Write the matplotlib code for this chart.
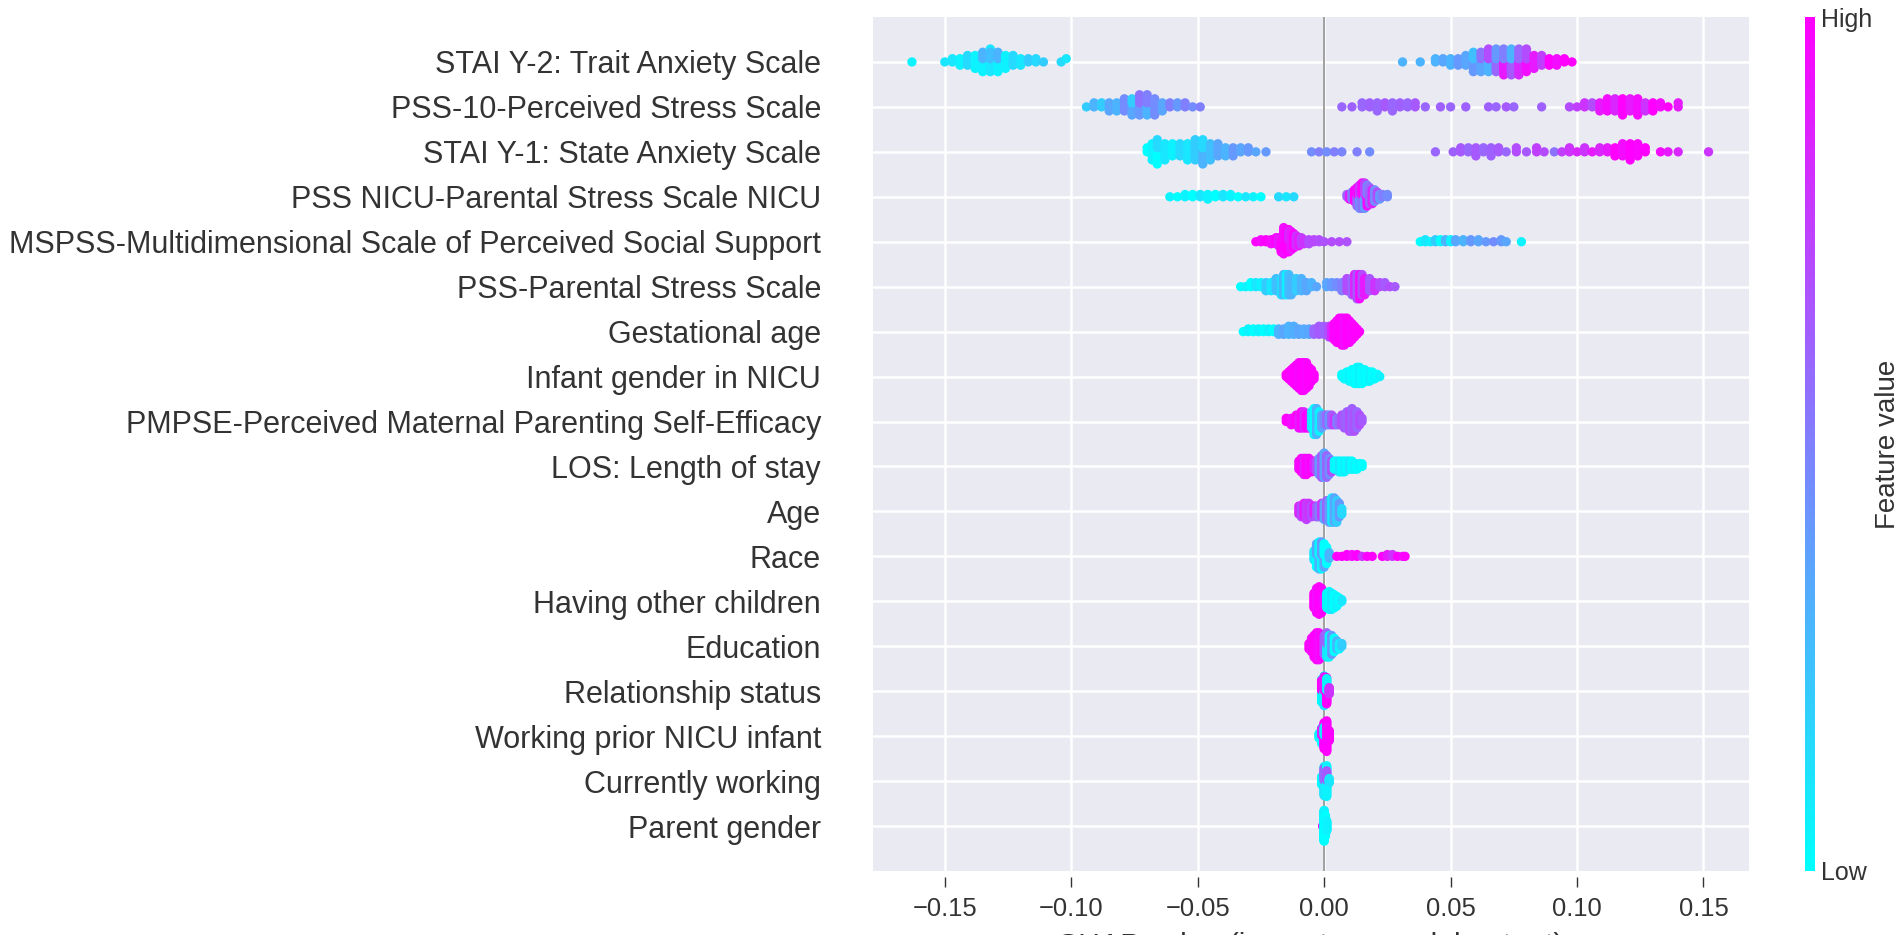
import numpy as np
import matplotlib
matplotlib.use("Agg")
import matplotlib.pyplot as plt
from matplotlib.cm import ScalarMappable
from matplotlib.colors import Normalize

plt.rcParams['font.family'] = ['Liberation Sans', 'DejaVu Sans']

# --- data: SHAP value, how many points sit there, feature level (0=low, 1=high) ---
features = [
    'STAI Y-2: Trait Anxiety Scale',
    'PSS-10-Perceived Stress Scale',
    'STAI Y-1: State Anxiety Scale',
    'PSS NICU-Parental Stress Scale NICU',
    'MSPSS-Multidimensional Scale of Perceived Social Support',
    'PSS-Parental Stress Scale',
    'Gestational age',
    'Infant gender in NICU',
    'PMPSE-Perceived Maternal Parenting Self-Efficacy',
    'LOS: Length of stay',
    'Age',
    'Race',
    'Having other children',
    'Education',
    'Relationship status',
    'Working prior NICU infant',
    'Currently working',
    'Parent gender',
]

stai2_x = [-0.163, -0.150, -0.147, -0.144, -0.141, -0.138, -0.135, -0.135, -0.132, -0.132, -0.129, -0.129, -0.126, -0.123, -0.120, -0.117, -0.114, -0.111, -0.104, -0.102,
           0.031, 0.038, 0.044, 0.047, 0.050, 0.053, 0.056, 0.059, 0.059, 0.062, 0.062, 0.065, 0.065, 0.068, 0.068, 0.071, 0.071, 0.074, 0.074, 0.077, 0.077, 0.080, 0.080, 0.083, 0.086, 0.089, 0.092, 0.095, 0.098]
stai2_n = [1, 1, 2, 3, 4, 5, 4, 3, 5, 3, 4, 3, 5, 4, 3, 2, 2, 1, 1, 1,
           1, 1, 2, 2, 3, 3, 4, 4, 3, 4, 3, 4, 4, 4, 4, 5, 4, 5, 4, 5, 4, 4, 4, 5, 4, 3, 3, 2, 1]
stai2_c = [0.05, 0.1, 0.1, 0.05, 0.15, 0.05, 0.05, 0.3, 0.1, 0.25, 0.05, 0.3, 0.05, 0.15, 0.1, 0.2, 0.15, 0.2, 0.15, 0.1,
           0.3, 0.3, 0.3, 0.35, 0.3, 0.4, 0.35, 0.4, 0.25, 0.35, 0.55, 0.3, 0.7, 0.6, 0.4, 0.9, 0.5, 0.65, 0.3, 0.85, 0.6, 0.95, 0.7, 0.9, 0.75, 1.0, 0.95, 1.0, 1.0]

pss10_x = [-0.094, -0.091, -0.088, -0.085, -0.082, -0.079, -0.076, -0.076, -0.073, -0.073, -0.070, -0.070, -0.067, -0.064, -0.061, -0.058, -0.055, -0.052, -0.049,
           0.007, 0.011, 0.015, 0.018, 0.021, 0.024, 0.027, 0.030, 0.033, 0.036, 0.040, 0.046, 0.050, 0.056, 0.065, 0.068, 0.072, 0.075, 0.086, 0.097,
           0.100, 0.103, 0.106, 0.109, 0.112, 0.115, 0.118, 0.121, 0.124, 0.127, 0.130, 0.133, 0.136, 0.140]
pss10_n = [1, 2, 2, 3, 3, 4, 3, 2, 3, 3, 3, 3, 5, 3, 2, 2, 2, 1, 1,
           1, 1, 2, 2, 3, 2, 3, 2, 2, 2, 1, 1, 1, 1, 1, 1, 1, 1, 1, 1,
           1, 2, 2, 3, 4, 4, 5, 4, 5, 3, 3, 2, 1, 2]
pss10_c = [0.2, 0.3, 0.2, 0.35, 0.3, 0.45, 0.35, 0.2, 0.4, 0.55, 0.3, 0.5, 0.45, 0.35, 0.5, 0.4, 0.5, 0.45, 0.5,
           0.6, 0.62, 0.6, 0.62, 0.6, 0.65, 0.6, 0.62, 0.6, 0.65, 0.6, 0.62, 0.6, 0.62, 0.62, 0.6, 0.65, 0.6, 0.62, 0.7,
           0.75, 0.8, 0.7, 0.9, 0.95, 0.85, 1.0, 0.9, 0.95, 0.8, 1.0, 0.95, 1.0, 0.9]

stai1_x = [-0.070, -0.068, -0.066, -0.066, -0.063, -0.060, -0.057, -0.054, -0.051, -0.048, -0.048, -0.045, -0.042, -0.039, -0.036, -0.033, -0.030, -0.027, -0.023,
           -0.005, -0.002, 0.001, 0.004, 0.007, 0.013, 0.018,
           0.044, 0.051, 0.054, 0.057, 0.060, 0.063, 0.066, 0.069, 0.072, 0.076, 0.080, 0.084, 0.087, 0.091, 0.094, 0.097, 0.100, 0.103, 0.106, 0.109,
           0.112, 0.115, 0.118, 0.121, 0.124, 0.127, 0.133, 0.136, 0.140, 0.152]
stai1_n = [2, 5, 4, 3, 5, 4, 4, 5, 6, 4, 3, 5, 4, 3, 3, 2, 2, 1, 1,
           1, 1, 1, 1, 1, 1, 1,
           1, 1, 2, 2, 3, 2, 3, 2, 1, 2, 1, 2, 1, 1, 1, 2, 1, 2, 1, 2,
           2, 3, 4, 5, 4, 2, 1, 1, 1, 1]
stai1_c = [0.0, 0.05, 0.0, 0.15, 0.1, 0.05, 0.15, 0.1, 0.2, 0.3, 0.15, 0.25, 0.35, 0.3, 0.4, 0.35, 0.4, 0.35, 0.4,
           0.45, 0.5, 0.45, 0.5, 0.48, 0.5, 0.45,
           0.6, 0.62, 0.65, 0.6, 0.65, 0.6, 0.62, 0.65, 0.6, 0.7, 0.65, 0.75, 0.7, 0.55, 0.75, 0.8, 0.85, 0.8, 0.9, 0.85,
           0.9, 1.0, 0.95, 1.0, 0.98, 1.0, 0.95, 0.9, 0.85, 0.8]

pssnicu_x = [-0.061, -0.058, -0.055, -0.052, -0.049, -0.046, -0.043, -0.040, -0.037, -0.034, -0.031, -0.028, -0.025, -0.018, -0.015, -0.012,
             0.009, 0.010, 0.011, 0.012, 0.013, 0.013, 0.014, 0.014, 0.015, 0.015, 0.016, 0.016, 0.017, 0.017, 0.018, 0.019, 0.020, 0.021, 0.022, 0.023, 0.025]
pssnicu_n = [1, 1, 2, 2, 2, 3, 2, 2, 2, 1, 1, 1, 1, 1, 1, 1,
             2, 3, 4, 6, 5, 4, 6, 5, 6, 6, 6, 6, 5, 5, 8, 7, 6, 4, 3, 2, 2]
pssnicu_c = [0.05, 0.0, 0.05, 0.0, 0.1, 0.05, 0.0, 0.1, 0.05, 0.0, 0.1, 0.05, 0.0, 0.15, 0.1, 0.15,
             0.6, 0.9, 0.5, 1.0, 0.6, 0.95, 0.45, 0.8, 0.55, 1.0, 0.4, 0.75, 0.95, 0.5, 0.6, 0.85, 0.45, 0.7, 0.4, 0.5, 0.45]

mspss_x = [-0.027, -0.025, -0.023, -0.021, -0.019, -0.018, -0.017, -0.016, -0.015, -0.014, -0.014, -0.013, -0.012, -0.011, -0.010, -0.009, -0.008, -0.006, -0.004, -0.002, 0.000, 0.003, 0.006, 0.009,
           0.038, 0.040, 0.042, 0.044, 0.046, 0.048, 0.050, 0.052, 0.055, 0.058, 0.061, 0.064, 0.067, 0.070, 0.072, 0.078]
mspss_n = [1, 2, 2, 3, 4, 5, 6, 8, 10, 7, 5, 10, 8, 6, 5, 4, 3, 3, 2, 2, 1, 1, 1, 1,
           1, 2, 1, 2, 2, 2, 2, 2, 2, 2, 2, 1, 1, 2, 1, 1]
mspss_c = [1.0, 0.95, 1.0, 0.95, 1.0, 0.9, 1.0, 0.95, 1.0, 1.0, 0.85, 0.9, 1.0, 0.8, 0.9, 0.75, 0.8, 0.7, 0.72, 0.7, 0.68, 0.7, 0.7, 0.68,
           0.0, 0.1, 0.05, 0.2, 0.0, 0.3, 0.05, 0.35, 0.3, 0.4, 0.35, 0.4, 0.45, 0.4, 0.35, 0.05]

pss_x = [-0.033, -0.031, -0.029, -0.027, -0.025, -0.023, -0.021, -0.019, -0.017, -0.016, -0.015, -0.014, -0.013, -0.011, -0.009, -0.007, -0.005, -0.003,
         0.001, 0.003, 0.005, 0.007, 0.009, 0.011, 0.012, 0.013, 0.014, 0.015, 0.016, 0.018, 0.020, 0.022, 0.024, 0.026, 0.028]
pss_n = [1, 1, 2, 2, 2, 3, 3, 4, 5, 6, 6, 6, 5, 4, 4, 3, 2, 1,
         2, 2, 2, 3, 4, 5, 6, 7, 7, 6, 5, 4, 3, 2, 2, 1, 1]
pss_c = [0.0, 0.05, 0.0, 0.1, 0.05, 0.2, 0.1, 0.25, 0.15, 0.3, 0.05, 0.25, 0.3, 0.2, 0.3, 0.35, 0.3, 0.35,
         0.35, 0.4, 0.45, 0.5, 0.7, 0.6, 0.85, 0.65, 0.95, 0.7, 0.9, 0.65, 0.8, 0.7, 0.65, 0.7, 0.65]

gest_x = [-0.032, -0.030, -0.028, -0.026, -0.024, -0.022, -0.020, -0.018, -0.016, -0.014, -0.012, -0.010, -0.008, -0.006, -0.004,
          -0.002, 0.000, 0.002, 0.003, 0.004, 0.005, 0.006, 0.007, 0.008, 0.009, 0.010, 0.011, 0.012, 0.013, 0.014]
gest_n = [1, 2, 2, 2, 2, 2, 2, 3, 3, 4, 4, 3, 3, 3, 3,
          4, 4, 5, 5, 7, 9, 10, 11, 11, 10, 9, 7, 5, 3, 1]
gest_c = [0.0, 0.05, 0.0, 0.05, 0.0, 0.05, 0.0, 0.3, 0.35, 0.3, 0.32, 0.35, 0.33, 0.35, 0.6,
          0.65, 0.62, 0.7, 0.85, 1.0, 0.98, 1.0, 1.0, 0.95, 1.0, 1.0, 0.98, 1.0, 1.0, 1.0]

infant_x = [-0.015, -0.014, -0.013, -0.012, -0.011, -0.010, -0.009, -0.008, -0.007, -0.006, -0.005, -0.004,
            0.007, 0.008, 0.009, 0.010, 0.011, 0.012, 0.013, 0.014, 0.015, 0.016, 0.017, 0.018, 0.019, 0.020, 0.021, 0.022]
infant_n = [2, 4, 6, 8, 10, 12, 13, 13, 12, 9, 6, 3,
            2, 3, 4, 5, 6, 7, 8, 8, 7, 6, 5, 5, 4, 3, 2, 1]
infant_c = [1.0, 1.0, 0.98, 1.0, 1.0, 0.97, 1.0, 1.0, 0.98, 1.0, 1.0, 1.0,
            0.0, 0.02, 0.0, 0.05, 0.0, 0.02, 0.0, 0.05, 0.0, 0.02, 0.0, 0.05, 0.0, 0.02, 0.0, 0.05]

pmpse_x = [-0.015, -0.013, -0.011, -0.010, -0.009, -0.008, -0.007, -0.006, -0.005, -0.004, -0.003, -0.002, -0.001, 0.000, 0.001,
           0.002, 0.003, 0.004, 0.005, 0.006, 0.007, 0.008, 0.009, 0.010, 0.011, 0.012, 0.013, 0.014, 0.015]
pmpse_n = [2, 3, 4, 5, 6, 6, 5, 5, 6, 9, 9, 7, 5, 4, 4,
           4, 4, 3, 3, 3, 4, 5, 6, 7, 8, 7, 6, 4, 2]
pmpse_c = [1.0, 0.95, 1.0, 0.9, 1.0, 0.85, 1.0, 0.95, 0.1, 0.0, 0.3, 0.05, 0.35, 0.45, 0.6,
           0.4, 0.65, 0.8, 0.5, 0.6, 0.7, 0.65, 0.6, 0.7, 0.62, 0.68, 0.6, 0.7, 0.65]

los_x = [-0.010, -0.009, -0.008, -0.007, -0.006, -0.005, -0.004, -0.003, -0.002, -0.001, 0.000, 0.001, 0.002,
         0.003, 0.004, 0.005, 0.006, 0.007, 0.008, 0.009, 0.010, 0.011, 0.012, 0.013, 0.014, 0.015]
los_n = [4, 6, 7, 7, 6, 5, 4, 5, 7, 9, 10, 9, 7,
         5, 4, 4, 5, 5, 5, 4, 4, 4, 3, 3, 2, 2]
los_c = [0.95, 1.0, 0.9, 1.0, 0.95, 1.0, 0.85, 0.7, 0.4, 0.65, 0.35, 0.6, 0.45,
         0.7, 0.05, 0.0, 0.1, 0.0, 0.05, 0.0, 0.1, 0.0, 0.05, 0.0, 0.05, 0.0]

age_x = [-0.010, -0.009, -0.008, -0.007, -0.006, -0.005, -0.004, -0.003, -0.002, -0.001, 0.000, 0.001, 0.002, 0.003, 0.004, 0.005, 0.006, 0.007]
age_n = [4, 5, 6, 7, 6, 5, 4, 5, 5, 6, 7, 8, 9, 10, 10, 9, 6, 3]
age_c = [0.85, 0.7, 0.9, 0.75, 0.8, 0.7, 0.9, 0.65, 0.5, 0.8, 0.35, 0.6, 0.4, 0.1, 0.35, 0.2, 0.4, 0.15]

race_x = [-0.004, -0.003, -0.003, -0.002, -0.002, -0.001, -0.001, 0.000, 0.000, 0.001, 0.002,
          0.005, 0.007, 0.009, 0.011, 0.013, 0.015, 0.017, 0.019, 0.023, 0.025, 0.027, 0.029, 0.031, 0.032]
race_n = [6, 7, 7, 8, 8, 8, 8, 7, 7, 10, 4,
          1, 1, 2, 2, 2, 1, 1, 1, 1, 2, 2, 1, 1, 1]
race_c = [0.1, 0.0, 0.35, 0.3, 0.05, 0.05, 0.4, 0.35, 0.0, 0.0, 0.3,
          1.0, 1.0, 1.0, 0.95, 1.0, 0.8, 1.0, 1.0, 1.0, 0.9, 0.8, 1.0, 0.95, 1.0]

children_x = [-0.004, -0.003, -0.002, -0.001, 0.000, 0.001, 0.002, 0.003, 0.004, 0.005, 0.006, 0.007]
children_n = [10, 16, 18, 16, 6, 10, 12, 11, 9, 7, 4, 2]
children_c = [1.0, 0.95, 1.0, 1.0, 0.9, 0.05, 0.0, 0.1, 0.0, 0.05, 0.0, 0.1]

edu_x = [-0.006, -0.005, -0.004, -0.003, -0.002, -0.001, 0.000, 0.001, 0.001, 0.002, 0.003, 0.004, 0.005, 0.006, 0.007]
edu_n = [3, 6, 9, 11, 11, 9, 8, 5, 5, 9, 8, 6, 4, 3, 2]
edu_c = [1.0, 0.95, 1.0, 1.0, 0.95, 1.0, 0.65, 0.1, 0.6, 0.05, 0.4, 0.0, 0.3, 0.05, 0.2]

relation_x = [-0.001, -0.001, 0.000, 0.000, 0.001, 0.001, 0.002]
relation_n = [14, 12, 18, 16, 16, 14, 8]
relation_c = [0.0, 1.0, 0.1, 0.9, 1.0, 0.05, 0.8]

prior_x = [-0.002, -0.001, -0.001, 0.000, 0.000, 0.001, 0.001, 0.002]
prior_n = [6, 10, 8, 20, 10, 25, 10, 12]
prior_c = [0.05, 0.0, 0.9, 1.0, 0.1, 1.0, 0.95, 1.0]

working_x = [-0.001, 0.000, 0.000, 0.001, 0.001, 0.002]
working_n = [10, 20, 15, 25, 12, 6]
working_c = [0.0, 0.1, 0.6, 0.05, 0.65, 0.1]

pgender_x = [-0.0005, 0.0, 0.0, 0.0005, 0.001]
pgender_n = [3, 30, 30, 40, 20]
pgender_c = [1.0, 0.0, 0.05, 0.0, 0.05]

rows = [
    (stai2_x, stai2_n, stai2_c), (pss10_x, pss10_n, pss10_c), (stai1_x, stai1_n, stai1_c),
    (pssnicu_x, pssnicu_n, pssnicu_c), (mspss_x, mspss_n, mspss_c), (pss_x, pss_n, pss_c),
    (gest_x, gest_n, gest_c), (infant_x, infant_n, infant_c), (pmpse_x, pmpse_n, pmpse_c),
    (los_x, los_n, los_c), (age_x, age_n, age_c), (race_x, race_n, race_c),
    (children_x, children_n, children_c), (edu_x, edu_n, edu_c), (relation_x, relation_n, relation_c),
    (prior_x, prior_n, prior_c), (working_x, working_n, working_c), (pgender_x, pgender_n, pgender_c),
]

xticks = [-0.15, -0.10, -0.05, 0.00, 0.05, 0.10, 0.15]


def swarm_offsets(xs, rank, row_height=0.4, nbins=100):
    # same stacking rule as the shap beeswarm: points in one x-bin pile up and down
    span = xs.max() - xs.min()
    quant = np.round(nbins * (xs - xs.min()) / (span + 1e-8))
    order = np.lexsort((rank, quant))
    ys = np.zeros(len(xs))
    layer, last_bin = 0, None
    for i in order:
        if quant[i] != last_bin:
            layer = 0
        ys[i] = np.ceil(layer / 2) * ((layer % 2) * 2 - 1)
        layer += 1
        last_bin = quant[i]
    ys *= 0.9 * (row_height / np.max(ys + 1))
    return ys


fig = plt.figure(figsize=(19.02, 9.35), dpi=100)
ax = fig.add_axes([873 / 1902, 64 / 935, 876 / 1902, 854 / 935])
ax.set_facecolor('#EAEAF2')
for sp in ax.spines.values():
    sp.set_visible(False)
ax.spines['bottom'].set_position(('outward', 4))
ax.grid(True, color='white', lw=1.8)
ax.set_axisbelow(True)
ax.axvline(0, color='#999999', lw=1.3, zorder=1)

cmap = plt.get_cmap('cool')
n_feat = len(features)
for i, (xv, nv, cv) in enumerate(rows):
    pos = n_feat - 1 - i
    xs = np.repeat(np.array(xv, dtype=float), nv)
    cs = np.repeat(np.array(cv, dtype=float), nv)
    rank = np.concatenate([np.arange(k) for k in nv])
    ys = swarm_offsets(xs, rank)
    ax.scatter(xs, pos + ys, c=cs, cmap=cmap, vmin=0, vmax=1, s=45,
               linewidths=0, zorder=3)

ax.set_ylim(-1, n_feat)
ax.set_yticks(range(n_feat))
ax.set_yticklabels(features[::-1])
ax.set_xlim(-0.1784, 0.168)
ax.set_xticks(xticks)
ax.set_xticklabels(['\u2212%.2f' % abs(t) if t < 0 else '%.2f' % t for t in xticks])
ax.tick_params(axis='y', length=0, pad=37.5, labelsize=22, labelcolor='#333333')
ax.tick_params(axis='x', length=7, width=1.0, color='#333333', direction='out',
               pad=8, labelsize=18.4, labelcolor='#333333')

# axis title sits mostly below the picture edge, as in the source image
fig.text((873 + 1749) / 2 / 1902, 3 / 935, 'SHAP value (impact on model output)',
         ha='center', va='top', fontsize=21.8, color='#333333')

# colour bar
cax = fig.add_axes([1805 / 1902, 64 / 935, 10 / 1902, 854 / 935])
cb = fig.colorbar(ScalarMappable(norm=Normalize(0, 1), cmap=cmap), cax=cax, ticks=[0, 1])
cb.set_ticklabels(['Low', 'High'])
cb.outline.set_visible(False)
cax.tick_params(length=0, labelsize=18, pad=4, labelcolor='#333333')
cb.set_label('Feature value', size=20, labelpad=2, color='#333333')

fig.savefig('out.png', dpi=100, facecolor='white')
